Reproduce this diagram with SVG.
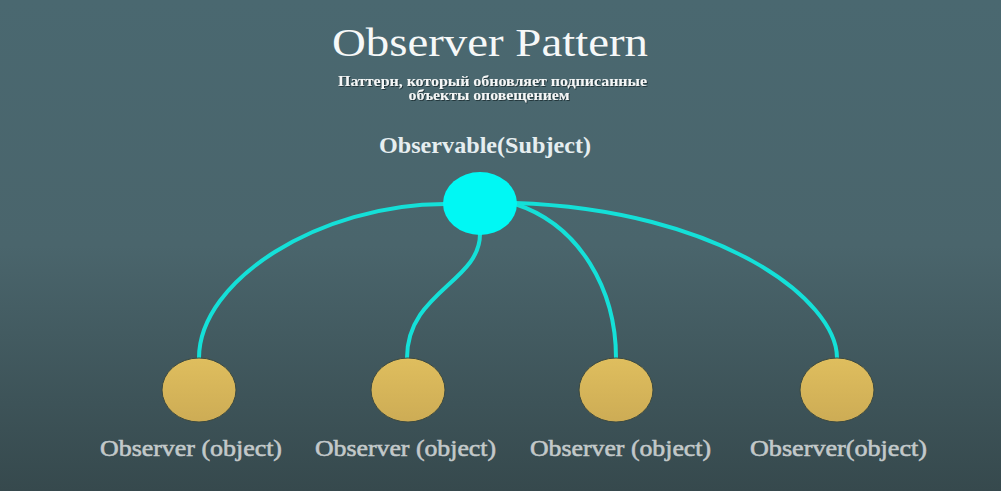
<svg xmlns="http://www.w3.org/2000/svg" width="1001" height="491" viewBox="0 0 1001 491">
  <defs>
    <linearGradient id="bg" x1="0" y1="0" x2="0" y2="1">
      <stop offset="0" stop-color="#4a6870"/>
      <stop offset="0.5" stop-color="#4a656c"/>
      <stop offset="1" stop-color="#36494d"/>
    </linearGradient>
    <linearGradient id="gold" x1="0" y1="0" x2="0" y2="1">
      <stop offset="0" stop-color="#dfbe5e"/>
      <stop offset="1" stop-color="#cdac55"/>
    </linearGradient>
    <filter id="shadow" x="-5%" y="-20%" width="110%" height="140%">
      <feDropShadow dx="1" dy="1" stdDeviation="0.6" flood-color="#1e2c30" flood-opacity="0.8"/>
    </filter>
  </defs>
  <style>
    .title { font-family: "Liberation Serif", "DejaVu Serif", serif; font-size: 40px; fill: #f6f8f8; }
    .sub { font-family: "Liberation Serif", "DejaVu Serif", serif; font-size: 15px; font-weight: bold; fill: #f4f6f6; }
    .subject { font-family: "Liberation Serif", "DejaVu Serif", serif; font-size: 23px; font-weight: bold; fill: #e6eef0; }
    .label { font-family: "Liberation Serif", "DejaVu Serif", serif; font-size: 24px; fill: #c3c9ca; stroke: #c3c9ca; stroke-width: 0.6; }
    .edge { fill: none; stroke: #14e0d8; stroke-width: 4; stroke-linecap: round; }
    .observer { fill: url(#gold); stroke: #3d4a40; stroke-width: 1; }
    .subjectNode { fill: #00f8f4; }
  </style>
  <rect width="1001" height="491" fill="url(#bg)"/>

  <g id="title-text">
    <text class="title" x="490" y="56" text-anchor="middle" textLength="316" lengthAdjust="spacingAndGlyphs">Observer Pattern</text>
    <g filter="url(#shadow)">
      <text class="sub" x="492.5" y="86" text-anchor="middle" textLength="309" lengthAdjust="spacingAndGlyphs">Паттерн, который обновляет подписанные</text>
      <text class="sub" x="489" y="100" text-anchor="middle" textLength="161" lengthAdjust="spacingAndGlyphs">объекты оповещением</text>
    </g>
  </g>

  <g id="connectors">
    <path class="edge" d="M445,204 C320,204 199,280 199,358"/>
    <path class="edge" d="M480,234 C480,282 407,292 407,358"/>
    <path class="edge" d="M515,204 C580,225 616,290 616,358"/>
    <path class="edge" d="M515,203 C720,210 837,300 837,358"/>
  </g>

  <g id="subject">
    <ellipse class="subjectNode" cx="480" cy="203.5" rx="37" ry="31.5"/>
    <text class="subject" x="485" y="153" text-anchor="middle" textLength="212" lengthAdjust="spacingAndGlyphs">Observable(Subject)</text>
  </g>

  <g id="observer1">
    <ellipse class="observer" cx="199" cy="390" rx="37" ry="32"/>
    <text class="label" x="191" y="456" text-anchor="middle" textLength="182" lengthAdjust="spacingAndGlyphs">Observer (object)</text>
  </g>
  <g id="observer2">
    <ellipse class="observer" cx="408" cy="390" rx="37" ry="32"/>
    <text class="label" x="405.5" y="456" text-anchor="middle" textLength="181" lengthAdjust="spacingAndGlyphs">Observer (object)</text>
  </g>
  <g id="observer3">
    <ellipse class="observer" cx="616" cy="390" rx="37" ry="32"/>
    <text class="label" x="620.5" y="456" text-anchor="middle" textLength="181" lengthAdjust="spacingAndGlyphs">Observer (object)</text>
  </g>
  <g id="observer4">
    <ellipse class="observer" cx="837" cy="390" rx="37" ry="32"/>
    <text class="label" x="838.5" y="456" text-anchor="middle" textLength="177" lengthAdjust="spacingAndGlyphs">Observer(object)</text>
  </g>
</svg>
